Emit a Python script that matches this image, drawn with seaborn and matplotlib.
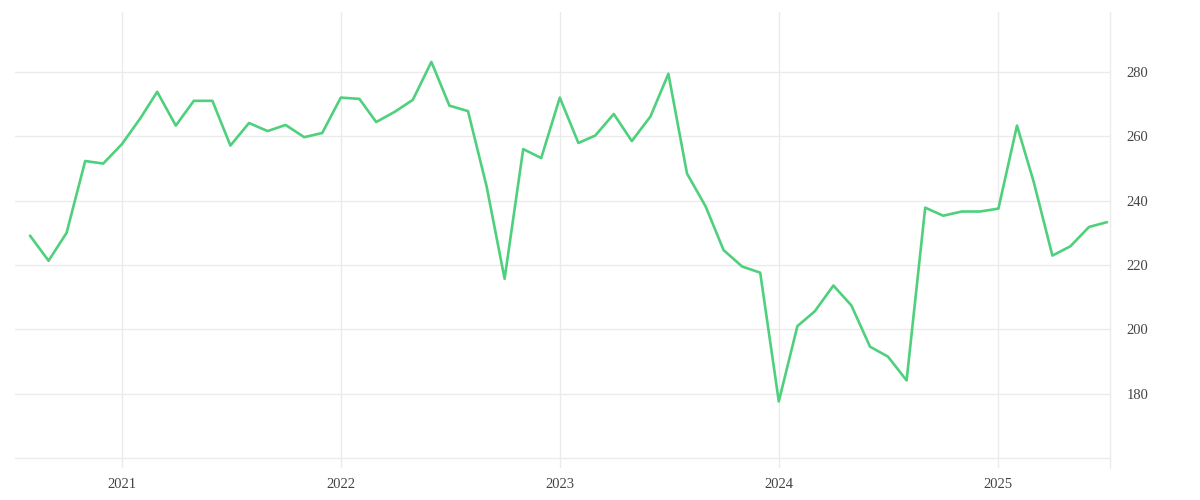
import pandas as pd
import matplotlib.pyplot as plt
import matplotlib.dates as mdates
import seaborn as sns

# monthly series, Aug 2020 .. Jul 2025
start_month = "2020-08-01"
values = [
    229.1, 221.3, 230.0, 252.3, 251.5,                                          # 2020
    257.5, 265.6, 273.8, 263.3, 271.0, 271.0, 257.1, 264.1, 261.6, 263.5, 259.7, 261.0,  # 2021
    272.0, 271.6, 264.4, 267.6, 271.3, 283.1, 269.5, 267.8, 244.4, 215.7, 256.0, 253.2,  # 2022
    272.0, 257.9, 260.2, 266.9, 258.5, 266.1, 279.4, 248.4, 238.2, 224.6, 219.5, 217.6,  # 2023
    177.6, 201.0, 205.6, 213.6, 207.4, 194.6, 191.5, 184.1, 237.8, 235.3, 236.6, 236.6,  # 2024
    237.5, 263.3, 245.7, 222.9, 225.8, 231.8, 233.3,                             # 2025
]
year_ticks = ["2021", "2022", "2023", "2024", "2025"]
y_ticks = [160, 180, 200, 220, 240, 260, 280]

dates = pd.date_range(start_month, periods=len(values), freq="MS")
df = pd.DataFrame({"date": dates, "value": values})

sns.set_theme(style="whitegrid")
plt.rcParams["font.family"] = ["Liberation Serif", "DejaVu Serif"]

fig = plt.figure(figsize=(12, 5), dpi=100)
ax = fig.add_axes([0.0125, 0.064, 0.9125, 0.912])

sns.lineplot(data=df, x="date", y="value", color="#4ed07c", linewidth=1.9, ax=ax)

ax.set_xlim(dates[0] - pd.Timedelta(days=25), dates[-1] + pd.Timedelta(days=5))
ax.set_ylim(156.9, 298.6)

ax.set_xticks(pd.to_datetime([y + "-01-01" for y in year_ticks]))
ax.xaxis.set_major_formatter(mdates.DateFormatter("%Y"))
ax.set_yticks(y_ticks)
ax.set_yticklabels(["" if v == 160 else str(v) for v in y_ticks])

ax.yaxis.tick_right()
ax.tick_params(axis="both", length=0, labelsize=10.5, labelcolor="#444444")
ax.tick_params(axis="y", pad=12)
ax.tick_params(axis="x", pad=7)
ax.set_xlabel("")
ax.set_ylabel("")

ax.grid(True, color="#ebebeb", linewidth=1)
for side in ["top", "left", "bottom"]:
    ax.spines[side].set_visible(False)
ax.spines["right"].set_color("#ebebeb")
ax.spines["right"].set_linewidth(1)

fig.savefig("out.png", dpi=100)
